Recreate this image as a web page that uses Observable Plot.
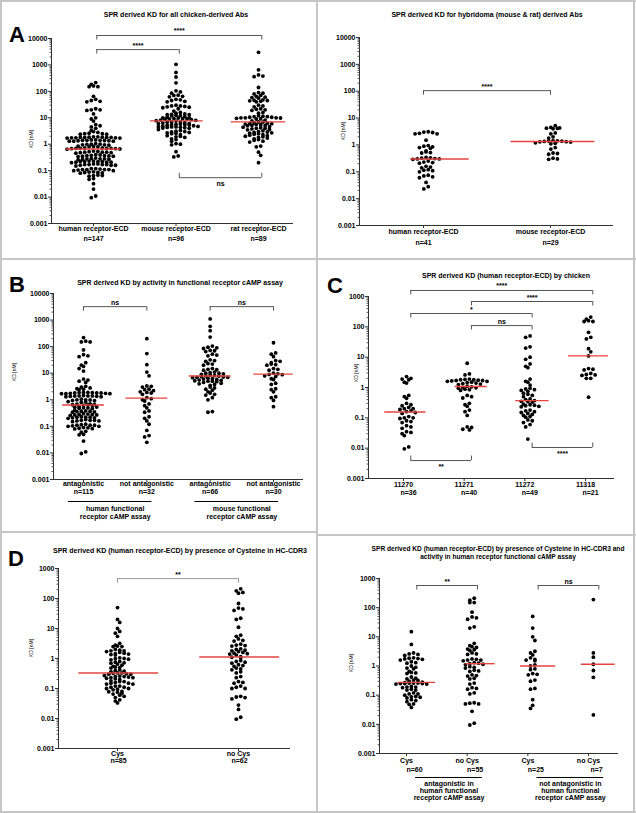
<!DOCTYPE html>
<html><head><meta charset="utf-8">
<script src="https://cdn.jsdelivr.net/npm/d3@7"></script>
<script src="https://cdn.jsdelivr.net/npm/@observablehq/plot@0.6"></script>
<style>
body{margin:0;background:#fff;}
#fig{position:relative;width:636px;height:813px;overflow:hidden;font-family:"Liberation Sans",Arial,Helvetica,sans-serif;color:#000;}
.abs{position:absolute;}
.ctr{position:absolute;transform:translate(-50%,-50%);white-space:pre;text-align:center;}
.title{font-size:7px;font-weight:bold;line-height:8px;}
.title.small{font-size:6.6px;}
.ylab{font-size:5px;transform:translate(-50%,-50%) rotate(-90deg);}
.letter{position:absolute;font-size:22px;font-weight:bold;line-height:22px;}
.line{position:absolute;background:#c6c6c6;}
</style></head>
<body><div id="fig"></div>
<script>
// ---------- shared ----------
const yTicks = [0.001, 0.01, 0.1, 1, 10, 100, 1000, 10000];

// ---------- Panel A (left): all chicken-derived Abs ----------
const aCats = ["human receptor-ECD", "mouse receptor-ECD", "rat receptor-ECD"];
const aN = ["n=147", "n=96", "n=89"];
const aHuman = [215,185,160,150,150,65,50,45,42,40,22,20,20,19,14,10,9,7.5,5.5,5,4.5,4,
  3.3,3.0,2.8,2.6,2.5,2.5,2.4,2.4,
  1.9,1.9,1.85,1.85,1.8,1.8,1.8,1.8,1.75,1.75,1.75,1.7,1.7,
  1.45,1.45,1.4,1.4,1.4,1.38,1.35,1.35,1.3,1.3,1.3,
  1.05,1.0,1.0,0.98,0.95,0.95,0.92,0.85,0.82,0.8,0.8,
  0.72,0.72,0.7,0.7,0.7,0.7,0.68,0.68,0.66,0.65,
  0.55,0.53,0.52,0.5,0.5,0.5,0.48,0.48,0.46,
  0.4,0.39,0.38,0.37,0.37,0.36,0.35,0.35,0.34,
  0.3,0.29,0.28,0.28,0.28,0.27,0.27,0.26,
  0.23,0.23,0.22,0.22,0.22,0.22,0.21,0.21,0.21,0.2,
  0.18,0.18,0.17,0.17,0.17,0.17,0.16,0.16,0.16,0.15,
  0.12,0.12,0.115,0.11,0.11,0.11,0.11,0.105,0.1,0.1,
  0.09,0.088,0.085,0.085,0.082,0.08,0.068,0.065,0.065,0.062,
  0.05,0.047,0.032,0.02,0.011,0.0095];
const aMouse = [1050,520,350,210,105,95,85,72,70,65,62,50,48,45,42,40,30,28,28,27,26,25,24,22,18,16,15,
  14,13.5,13,13,12.5,12,12,11,10.5,10,10,9.8,9.5,9.2,9,9,8.8,8.5,8.2,8.0,7.8,
  7.5,7,7,6.8,6.5,6.3,6,6,5.8,5.6,5.5,5.5,5.3,5.2,5,4.8,4.7,4.6,4.5,4.5,4.4,4.3,4.2,4.1,4,
  3.6,3.3,3.1,3,2.9,2.8,2.7,2.6,2.5,2.3,2.1,2,1.9,1.8,1.6,1.5,1.3,1.05,1.0,0.95,0.52,0.36,0.33];
const aRat = [3000,650,420,380,360,140,90,85,80,70,65,60,58,55,48,46,45,44,42,40,30,28,26,22,21,20,19,16,15,
  12,11.5,11,11,10.5,10.5,10,10,10,9.8,9.5,9.2,9,8.2,7.6,7,6.8,6.5,6.2,6,6,5.8,5.5,5.5,5.2,5,5,
  4.6,4.4,4.2,4,4,3.8,3.6,3.5,3.2,3,2.9,2.8,2.7,2.6,2.5,2.4,2.3,2.2,2.1,2,1.9,1.8,1.7,1.6,
  1.5,1.4,1.3,1.2,0.85,0.8,0.5,0.38,0.2];
const aBrackets = [
  {from: 0, to: 2, kd: 13000, label: "****", side: "top"},
  {from: 0, to: 1, kd: 3800, label: "****", side: "top"},
  {from: 1, to: 2, kd: 0.054, label: "ns", side: "bottom"}];

// ---------- Panel A (right): hybridoma derived Abs ----------
const arCats = ["human receptor-ECD", "mouse receptor-ECD"];
const arN = ["n=41", "n=29"];
const arHuman = [3.1,3.0,2.9,2.7,2.6,2.6,1.5,0.95,0.9,0.85,0.8,0.75,0.6,0.55,0.52,0.5,0.34,0.33,0.32,0.31,0.3,0.3,0.29,
  0.25,0.23,0.22,0.21,0.16,0.15,0.14,0.12,0.115,0.11,0.1,0.075,0.07,0.065,0.06,0.04,0.028,0.023];
const arMouse = [5.2,4.5,4.3,4.2,4.1,4.0,2.8,2.6,2.0,1.8,1.45,1.42,1.4,1.38,1.35,1.32,1.3,1.28,1.2,1.15,1.1,
  0.8,0.7,0.5,0.48,0.45,0.32,0.3,0.29];
const arBrackets = [{from: 0, to: 1, kd: 105, label: "****", side: "top"}];

// ---------- Panel B: by activity in functional cAMP assay ----------
const bCats = ["antagonistic", "not antagonistic", "antagonistic", "not antagonistic"];
const bN = ["n=115", "n=32", "n=66", "n=30"];
const bGroups = [
  {from: 0, to: 1, label: "human functional\nreceptor cAMP assay"},
  {from: 2, to: 3, label: "mouse functional\nreceptor cAMP assay"}];
const bAntHuman = [220,160,150,150,75,50,45,42,25,20,18,15,12,6,5.5,5,4.5,3.2,3.0,2.8,2.6,2.5,2.4,
  1.9,1.9,1.85,1.85,1.8,1.8,1.8,1.75,1.75,1.7,1.7,1.7,
  1.45,1.4,1.4,1.4,1.38,1.35,1.35,1.3,1.3,1.05,1.0,1.0,0.98,0.95,0.92,0.85,0.82,0.8,
  0.7,0.68,0.66,0.65,0.64,0.62,0.62,0.55,0.53,0.52,0.5,0.5,0.48,0.47,
  0.4,0.38,0.37,0.37,0.36,0.35,0.34,0.3,0.29,0.28,0.28,0.27,0.27,0.26,
  0.23,0.22,0.22,0.22,0.21,0.21,0.2,0.18,0.17,0.17,0.17,0.16,0.16,0.15,
  0.12,0.115,0.11,0.11,0.11,0.105,0.1,0.1,0.09,0.088,0.085,0.082,0.08,
  0.065,0.06,0.05,0.048,0.028,0.011,0.0095];
const bNotHuman = [200,55,21,11,8,3.3,3.2,3.0,2.5,2.4,2.2,2.0,1.9,1.8,1.6,1.2,1.1,1.0,0.9,0.7,0.6,0.5,
  0.38,0.34,0.23,0.2,0.16,0.12,0.07,0.045,0.04,0.025];
const bAntMouse = [1100,580,400,230,105,95,90,85,72,70,65,52,48,45,32,30,28,23,22,20,15,14,13.5,13,
  11,10.5,10,10,9.5,9,8.5,8.2,8,7.8,7.5,7.2,7,7,6.8,6.5,6.2,6,5.8,5.5,5.4,5.2,5,5,4.8,
  4.5,4.2,4,3.8,3.5,3,2.8,2.5,2.3,2,1.8,1.6,1.5,1.2,1.0,0.36,0.34];
const bNotMouse = [140,58,52,42,30,28,25,22,21,20,15,14,13,10,9.5,9,8.8,8,7.5,6.2,5.8,4.2,3.8,2.6,2.4,2.0,
  1.3,1.2,0.95,0.55];
const bBrackets = [
  {from: 0, to: 1, kd: 3200, label: "ns", side: "top"},
  {from: 2, to: 3, kd: 3200, label: "ns", side: "top"}];

// ---------- Panel C: by chicken ----------
const cCats = ["11270", "11271", "11272", "11318"];
const cN = ["n=36", "n=40", "n=49", "n=21"];
const c11270 = [2.3,2.0,1.9,1.8,1.5,1.4,0.55,0.5,0.44,0.3,0.27,0.25,0.22,0.2,0.2,0.19,0.17,0.16,0.15,0.14,
  0.11,0.1,0.1,0.095,0.08,0.075,0.07,0.055,0.05,0.045,0.035,0.033,0.03,0.026,0.011,0.0095];
const c11271 = [6.3,2.8,2.6,1.9,1.85,1.8,1.8,1.75,1.7,1.7,1.65,1.6,1.6,1.5,1.45,1.4,1.35,1.3,1.25,
  1.1,1.05,1.0,0.98,0.95,0.88,0.85,0.8,0.55,0.5,0.45,0.3,0.27,0.24,0.18,0.16,0.12,0.05,0.048,0.042,0.04];
const c11272 = [50,45,22,20,10,8.5,6,5,4.5,1.9,1.6,1.5,1.2,0.95,0.9,0.85,0.8,0.75,0.65,0.6,0.55,0.5,
  0.42,0.4,0.37,0.35,0.34,0.33,0.28,0.27,0.26,0.25,0.24,0.23,0.18,0.17,0.16,0.15,0.14,0.13,
  0.12,0.11,0.105,0.085,0.08,0.07,0.06,0.05,0.02];
const c11318 = [210,180,160,150,150,66,45,40,19,15,11,4.2,4.0,3.8,2.9,2.7,2.6,2.5,2.0,2.0,0.48];
const cBrackets = [
  {from: 0, to: 3, kd: 1580, label: "****", side: "top"},
  {from: 1, to: 3, kd: 684, label: "****", side: "top"},
  {from: 0, to: 2, kd: 275, label: "*", side: "top"},
  {from: 1, to: 2, kd: 110, label: "ns", side: "top"},
  {from: 0, to: 1, kd: 0.0039, label: "**", side: "bottom"},
  {from: 2, to: 3, kd: 0.0105, label: "****", side: "bottom"}];

// ---------- Panel D (left): Cysteine in HC-CDR3 ----------
const dCats = ["Cys", "no Cys"];
const dN = ["n=85", "n=62"];
const dCys = [50,20,16,10,8,7,5.5,3.2,2.8,2.6,2.5,2.5,2.0,1.9,1.8,1.8,1.7,1.6,1.5,1.45,1.4,1.35,1.3,
  1.05,1.0,0.98,0.95,0.9,0.8,0.75,0.72,0.7,0.65,0.6,0.55,0.52,0.5,0.48,0.42,0.4,0.38,0.36,0.33,
  0.33,0.32,0.31,0.3,0.3,0.27,0.26,0.25,0.25,0.24,0.23,0.23,0.22,0.21,0.2,
  0.18,0.17,0.17,0.16,0.15,0.15,0.14,0.14,0.12,0.12,0.11,0.11,0.1,0.1,0.095,0.09,
  0.08,0.078,0.075,0.07,0.065,0.06,0.055,0.05,0.042,0.038,0.033];
const dNoCys = [210,180,160,150,68,48,45,40,22,20,11,6,5.5,4.5,4,3.8,3,2.8,2.7,2.6,2.1,2.0,1.9,1.8,1.7,
  1.6,1.5,1.45,1.4,1.3,1.15,1.1,1.05,0.85,0.8,0.75,0.7,0.62,0.58,0.55,0.48,0.45,0.42,0.36,0.33,
  0.25,0.23,0.17,0.16,0.15,0.12,0.11,0.1,0.1,0.055,0.052,0.05,0.045,0.028,0.02,0.011,0.0095];
const dBrackets = [{from: 0, to: 1, kd: 460, label: "**", side: "top"}];

// ---------- Panel D (right): Cysteine and activity ----------
const drCats = ["Cys", "no Cys", "Cys", "no Cys"];
const drN = ["n=60", "n=55", "n=25", "n=7"];
const drGroups = [
  {from: 0, to: 1, label: "antagonistic in\nhuman functional\nreceptor cAMP assay"},
  {from: 2, to: 3, label: "not antagonistic in\nhuman functional\nreceptor cAMP assay"}];
const drCysAnt = [15,5.5,2.8,2.6,2.5,2.3,1.9,1.85,1.8,1.75,1.7,1.6,1.4,1.3,1.25,1.0,0.9,0.85,0.8,
  0.65,0.6,0.58,0.55,0.42,0.38,0.36,0.33,0.32,0.3,0.28,0.27,0.26,0.26,0.26,0.25,0.25,0.25,0.24,0.24,
  0.2,0.19,0.19,0.18,0.16,0.15,0.15,0.12,0.11,0.11,0.1,0.09,0.088,0.085,0.08,0.07,0.065,0.06,0.05,0.048,0.038];
const drNoCysAnt = [210,180,150,150,70,48,45,40,22,20,6,5,4.6,4.3,3.8,3.6,3.4,2.8,2.6,2.5,
  1.75,1.7,1.6,1.6,1.5,1.3,1.25,1.2,1.15,1.1,0.95,0.9,0.85,0.72,0.68,0.65,0.5,0.47,0.45,0.38,0.36,
  0.26,0.24,0.18,0.17,0.16,0.12,0.11,0.055,0.053,0.05,0.05,0.028,0.011,0.0095];
const drCysNot = [50,20,10,7.5,3.2,2.8,2.4,1.9,1.7,1.6,1.5,1.1,1.0,0.8,0.75,0.55,0.52,0.5,0.33,0.3,0.17,0.16,0.07,0.045,0.035];
const drNoCysNot = [190,2.8,2.0,1.15,0.7,0.41,0.021];
const drBrackets = [
  {from: 0, to: 1, kd: 575, label: "**", side: "top"},
  {from: 2, to: 3, kd: 575, label: "ns", side: "top"}];

// ---------- layout ----------
const panels = [
  {left: 0, top: 0, width: 316, height: 258, ml: 51, mr: 23, mt: 38, mb: 35,
   xDomain: [-0.509, 2.424], yDomain: [0.001, 10000], cats: aCats, ns: aN,
   series: [aHuman, aMouse, aRat], med: [[-0.33, 0.33], [-0.31, 0.33], [-0.33, 0.33]],
   brackets: aBrackets, bShift: 0.04, labDy: 3, nDy: 13, nDx: 0},
  {left: 316, top: 0, width: 320, height: 258, ml: 43, mr: 23, mt: 37, mb: 33,
   xDomain: [-0.504, 1.496], yDomain: [0.001, 10000], cats: arCats, ns: arN,
   series: [arHuman, arMouse], shift: 0.02, med: [[-0.12, 0.34], [-0.33, 0.33]],
   brackets: arBrackets, bShift: 0, labDy: 3.5, nDy: 14.5, nDx: 0},
  {left: 0, top: 260, width: 317, height: 270, ml: 53, mr: 14, mt: 33, mb: 51,
   xDomain: [-0.474, 3.474], yDomain: [0.001, 10000], cats: bCats, ns: bN,
   series: [bAntHuman, bNotHuman, bAntMouse, bNotMouse], med: [[-0.33, 0.33], [-0.33, 0.33], [-0.33, 0.33], [-0.31, 0.31]],
   brackets: bBrackets, bShift: 0, labDy: 2, nDy: 9.5, nDx: 0,
   groups: bGroups, ulDy: 22, ulSpan: [-0.24, 0.08], glDy: 25.5, glLH: 1.15, glShift: 0},
  {left: 317, top: 260, width: 319, height: 275, ml: 51, mr: 22, mt: 36, mb: 57,
   xDomain: [-0.577, 3.478], yDomain: [0.001, 1000], cats: cCats, ns: cN,
   series: [c11270, c11271, c11272, c11318], shift: 0.05, med: [[-0.36, 0.32], [-0.2, 0.33], [-0.2, 0.35], [-0.33, 0.33]],
   brackets: cBrackets, bShift: 0.12, labDy: 3.5, nDy: 11.5, nDx: 5},
  {left: 0, top: 530, width: 317, height: 283, ml: 58, mr: 27, mt: 38, mb: 65,
   xDomain: [-0.488, 1.43], yDomain: [0.001, 1000], cats: dCats, ns: dN,
   series: [dCys, dNoCys], med: [[-0.32, 0.34], [-0.32, 0.34]],
   brackets: dBrackets, bShift: 0, labDy: 3, nDy: 9.5, nDx: 1, bColor: "#999"},
  {left: 317, top: 535, width: 319, height: 278, ml: 62, mr: 18, mt: 43, mb: 60,
   xDomain: [-0.445, 3.494], yDomain: [0.001, 1000], cats: drCats, ns: drN,
   series: [drCysAnt, drNoCysAnt, drCysNot, drNoCysNot], shift: 0.08, med: [[-0.22, 0.4], [-0.1, 0.38], [-0.2, 0.38], [-0.2, 0.36]],
   brackets: drBrackets, bShift: 0.17, labDy: 4.5, nDy: 13.5, nDx: 8,
   groups: drGroups, ulDy: 24, ulSpan: [0.15, 0.25], glDy: 27.5, glLH: 1.0, glShift: 0.2}
];

// Prism-like scatter: values close in y share a row, spread horizontally (pixel offsets -> x units)
function swarm(values, yScale, pxPerUnit, center) {
  const rowH = 2.7, gap = 4.4;
  const pts = values.map(v => ({v, py: yScale(v)})).sort((a, b) => a.py - b.py);
  const rows = [];
  let cur = null;
  for (const p of pts) {
    if (!cur || p.py - cur[0].py >= rowH) { cur = [p]; rows.push(cur); } else cur.push(p);
  }
  const out = [];
  let prev = null, flip = 1;
  for (const row of rows) {
    const n = row.length;
    const slots = d3.range(n).map(k => (k - (n - 1) / 2) * gap);
    const order = d3.range(n).sort((a, b) => Math.abs(slots[a]) - Math.abs(slots[b]) || slots[b] - slots[a]);
    let off = 0;
    if (prev && row[0].py - prev.py < 4 && (n % 2) === (prev.n % 2)) { off = flip * gap / 2; flip = -flip; }
    row.forEach((p, k) => out.push({value: p.v, x: center + (slots[order[k]] + off) / pxPerUnit}));
    prev = {py: row[0].py, n};
  }
  return out;
}

const fig = document.getElementById("fig");
const FONT = "'Liberation Sans', Arial, Helvetica, sans-serif";

for (const p of panels) {
  const shift = p.shift || 0;
  const yScale = d3.scaleLog().domain(p.yDomain).range([p.height - p.mb, p.mt]);
  const pxPerUnit = (p.width - p.ml - p.mr) / (p.xDomain[1] - p.xDomain[0]);
  const decadePx = (p.height - p.mb - p.mt) / Math.log10(p.yDomain[1] / p.yDomain[0]);
  const dots = [];
  p.series.forEach((vals, i) => dots.push(...swarm(vals, yScale, pxPerUnit, i + shift)));
  const meds = p.series.map((vals, i) => ({m: d3.median(vals), x1: i + shift + p.med[i][0], x2: i + shift + p.med[i][1]}));
  const majors = yTicks.filter(t => t >= p.yDomain[0] && t <= p.yDomain[1]);
  const minors = [];
  majors.slice(0, -1).forEach(t => { for (let k = 2; k < 10; k++) minors.push(t * k); });
  const f = Math.pow(10, 4.5 / decadePx);
  const br = p.brackets.map(b => ({...b,
    x1: b.from + p.bShift, x2: b.to + p.bShift, mid: (b.from + b.to) / 2 + p.bShift,
    end: b.side === "top" ? b.kd / f : b.kd * f}));
  const bc = p.bColor || "#555";
  const idx = d3.range(p.cats.length);
  const marks = [
    Plot.ruleX([p.xDomain[0]], {stroke: "#333", strokeWidth: 1}),
    Plot.ruleY([p.yDomain[0]], {stroke: "#333", strokeWidth: 1}),
    Plot.axisY({ticks: majors, tickFormat: d => String(d), tickSize: 3, tickPadding: 1, label: null, stroke: "#333", fill: "#000"}),
    Plot.axisY({ticks: minors, tickFormat: () => "", tickSize: 1.5, label: null, stroke: "#555"}),
    Plot.axisX({ticks: idx, tickFormat: () => "", tickSize: 3, label: null, stroke: "#333"}),
    Plot.text(p.cats, {x: (d, i) => i, frameAnchor: "bottom", lineAnchor: "top", dy: p.labDy, text: d => d, fill: "#000"}),
    Plot.text(p.ns, {x: (d, i) => i, frameAnchor: "bottom", lineAnchor: "top", dy: p.nDy, dx: p.nDx, text: d => d, fill: "#000"}),
    Plot.dot(dots, {x: "x", y: "value", r: 1.9, fill: "#000", stroke: null}),
    Plot.ruleY(meds, {y: "m", x1: "x1", x2: "x2", stroke: "#e5443f", strokeWidth: 1.4}),
    Plot.ruleY(br, {y: "kd", x1: "x1", x2: "x2", stroke: bc, strokeWidth: 1}),
    Plot.ruleX(br, {x: "x1", y1: "kd", y2: "end", stroke: bc, strokeWidth: 1}),
    Plot.ruleX(br, {x: "x2", y1: "kd", y2: "end", stroke: bc, strokeWidth: 1}),
    Plot.text(br.filter(b => b.side === "top"), {x: "mid", y: "kd", text: "label", lineAnchor: "bottom", dy: -2, fill: "#000"}),
    Plot.text(br.filter(b => b.side === "bottom"), {x: "mid", y: "kd", text: "label", lineAnchor: "top", dy: 3, fill: "#000"})
  ];
  if (p.groups) {
    marks.push(
      Plot.ruleY(p.groups, {y: () => p.yDomain[0], x1: d => d.from + p.ulSpan[0], x2: d => d.to + p.ulSpan[1], dy: p.ulDy, stroke: "#000", strokeWidth: 1}),
      Plot.text(p.groups, {x: d => (d.from + d.to) / 2 + p.glShift, frameAnchor: "bottom", lineAnchor: "top", dy: p.glDy, text: "label", lineHeight: p.glLH, fill: "#000"})
    );
  }
  const svg = Plot.plot({
    width: p.width, height: p.height,
    marginLeft: p.ml, marginRight: p.mr, marginTop: p.mt, marginBottom: p.mb,
    x: {type: "linear", domain: p.xDomain, label: null},
    y: {type: "log", domain: p.yDomain, label: null},
    style: {fontFamily: FONT, fontSize: "7px", fontWeight: "bold", color: "#000", background: "transparent", overflow: "visible"},
    marks
  });
  const wrap = document.createElement("div");
  wrap.className = "abs";
  wrap.style.left = p.left + "px";
  wrap.style.top = p.top + "px";
  wrap.style.width = p.width + "px";
  wrap.style.height = p.height + "px";
  wrap.appendChild(svg);
  fig.appendChild(wrap);
}

// ---------- frame lines ----------
function line(x, y, w, h) {
  const d = document.createElement("div");
  d.className = "line";
  Object.assign(d.style, {left: x + "px", top: y + "px", width: w + "px", height: h + "px"});
  fig.appendChild(d);
}
line(0, 0, 636, 2); line(0, 811, 636, 2); line(0, 0, 2, 813); line(633, 0, 2, 813);
line(0, 258, 636, 2);
line(316, 0, 1.5, 258);
line(316, 258, 2, 555);
line(0, 531, 317, 2);
line(317, 534, 319, 2);

// ---------- texts ----------
function ctext(cls, x, y, txt) {
  const d = document.createElement("div");
  d.className = "ctr " + cls;
  d.style.left = x + "px"; d.style.top = y + "px";
  d.textContent = txt;
  fig.appendChild(d);
}
ctext("title", 176, 15, "SPR derived KD for all chicken-derived Abs");
ctext("title", 487, 15, "SPR derived KD for hybridoma (mouse & rat) derived Abs");
ctext("title", 180, 283, "SPR derived KD by activity in functional receptor cAMP assay");
ctext("title", 506, 276, "SPR derived KD (human receptor-ECD) by chicken");
ctext("title", 180, 551, "SPR derived KD (human receptor-ECD) by presence of Cysteine in HC-CDR3");
ctext("title small", 498, 553, "SPR derived KD (human receptor-ECD) by presence of Cysteine in HC-CDR3 and\nactivity in human receptor functional cAMP assay");

ctext("ylab", 30.5, 139, "KD [nM]");
ctext("ylab", 343, 131, "KD [nM]");
ctext("ylab", 14, 372, "KD [nM]");
ctext("ylab", 356, 373, "KD [nM]");
ctext("ylab", 31, 648, "KD [nM]");
ctext("ylab", 351, 663, "KD [nM]");

function letter(ch, x, capTop) {
  const d = document.createElement("div");
  d.className = "letter";
  d.style.left = x + "px"; d.style.top = (capTop - 3) + "px";
  d.textContent = ch;
  fig.appendChild(d);
}
letter("A", 9, 27);
letter("B", 9, 277);
letter("C", 327, 278);
letter("D", 8, 551);
</script>
</body></html>
